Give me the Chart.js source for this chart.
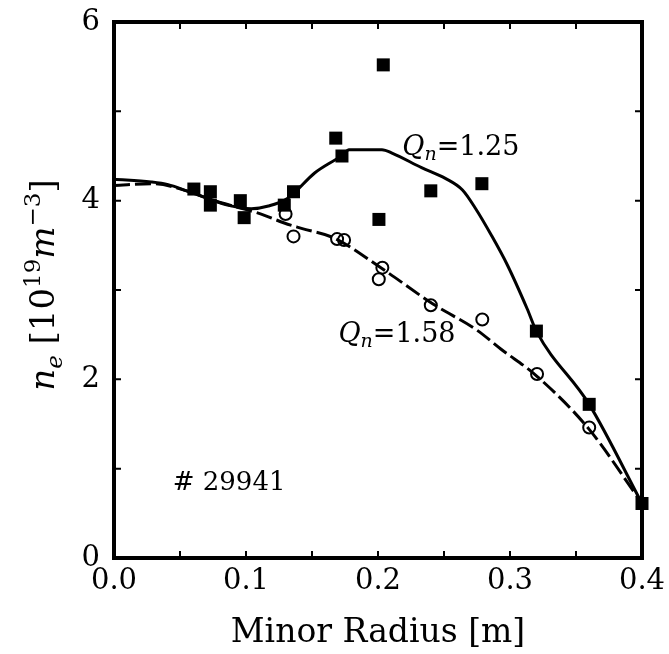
<!DOCTYPE html>
<html><head><meta charset="utf-8">
<script src="https://cdn.jsdelivr.net/npm/chart.js@4.4.0/dist/chart.umd.min.js"></script>
<style>html,body{margin:0;padding:0;background:#fff;}#wrap{width:669px;height:654px;}</style>
</head><body><div id="wrap"><canvas id="c" width="669" height="654"></canvas></div>
<script>
// ---- data ----
const squareX = [0.0605, 0.073, 0.073, 0.0957, 0.0986, 0.129, 0.136, 0.168, 0.1727, 0.204, 0.2007, 0.240, 0.2787, 0.320, 0.360, 0.400];
const squareY = [4.13, 4.10, 3.95, 4.00, 3.81, 3.95, 4.10, 4.70, 4.50, 5.52, 3.79, 4.11, 4.19, 2.54, 1.72, 0.61];
const circleX = [0.130, 0.136, 0.169, 0.1743, 0.2033, 0.2006, 0.240, 0.279, 0.3205, 0.360];
const circleY = [3.85, 3.60, 3.57, 3.56, 3.25, 3.12, 2.83, 2.67, 2.06, 1.46];
const fit125X = [0.000, 0.028, 0.041, 0.055, 0.074, 0.086, 0.104, 0.117, 0.132, 0.152, 0.173, 0.178, 0.203, 0.211, 0.233, 0.251, 0.264, 0.274, 0.286, 0.298, 0.313, 0.320, 0.360, 0.400];
const fit125Y = [4.24, 4.21, 4.18, 4.11, 4.01, 3.95, 3.91, 3.94, 4.03, 4.31, 4.51, 4.57, 4.57, 4.53, 4.37, 4.25, 4.12, 3.91, 3.61, 3.28, 2.79, 2.54, 1.72, 0.61];
const fit158X = [0.000, 0.030, 0.055, 0.074, 0.090, 0.1115, 0.129, 0.142, 0.167, 0.203, 0.242, 0.275, 0.293, 0.320, 0.360, 0.393, 0.400];
const fit158Y = [4.17, 4.19, 4.11, 4.01, 3.94, 3.85, 3.75, 3.69, 3.58, 3.24, 2.84, 2.55, 2.34, 2.04, 1.44, 0.76, 0.61];
const xTickValues = [0, 0.1, 0.2, 0.3, 0.4];
const xTickLabels = ['0.0', '0.1', '0.2', '0.3', '0.4'];
const yTickValues = [0, 2, 4, 6];
const yTickLabels = ['0', '2', '4', '6'];
const xMinorTicks = [0.05, 0.1, 0.15, 0.2, 0.25, 0.3, 0.35];
const yMinorTicks = [1, 2, 3, 4, 5];
const xTitle = 'Minor Radius [m]';
const label125 = ['Q', 'n', '=1.25'];
const label158 = ['Q', 'n', '=1.58'];
const shotLabel = '# 29941';

const FAM = "'DejaVu Serif', serif";
const pts = (xs, ys) => xs.map((x, i) => ({x: x, y: ys[i]}));

function drawRich(ctx, x, y, parts) {
  let cx = x;
  for (const p of parts) {
    ctx.font = p[1];
    ctx.fillText(p[0], cx, y + p[2]);
    cx += ctx.measureText(p[0]).width;
  }
  return cx - x;
}
function richWidth(ctx, parts) {
  let w = 0;
  for (const p of parts) { ctx.font = p[1]; w += ctx.measureText(p[0]).width; }
  return w;
}

const framePlugin = {
  id: 'frame',
  beforeDatasetsDraw(chart) {
    const {ctx, chartArea: a, scales: {x, y}} = chart;
    ctx.save();
    ctx.strokeStyle = '#000';
    ctx.lineWidth = 4;
    ctx.strokeRect(a.left, a.top, a.right - a.left, a.bottom - a.top);
    ctx.lineWidth = 2;
    ctx.beginPath();
    const tl = 7;
    for (const v of xMinorTicks) {
      const px = x.getPixelForValue(v);
      ctx.moveTo(px, a.bottom); ctx.lineTo(px, a.bottom - tl);
      ctx.moveTo(px, a.top); ctx.lineTo(px, a.top + tl);
    }
    for (const v of yMinorTicks) {
      const py = y.getPixelForValue(v);
      ctx.moveTo(a.left, py); ctx.lineTo(a.left + tl, py);
      ctx.moveTo(a.right, py); ctx.lineTo(a.right - tl, py);
    }
    ctx.stroke();
    ctx.restore();
  },
  afterDraw(chart) {
    const {ctx, scales: {x, y}} = chart;
    ctx.save();
    ctx.fillStyle = '#000';
    ctx.textBaseline = 'alphabetic';
    ctx.textAlign = 'left';
    drawRich(ctx, x.getPixelForValue(0.2184), y.getPixelForValue(4.515), [
      [label125[0], 'italic 27px ' + FAM, 0], [label125[1], 'italic 19px ' + FAM, 5], [label125[2], '27px ' + FAM, 0]]);
    drawRich(ctx, x.getPixelForValue(0.170), y.getPixelForValue(2.42), [
      [label158[0], 'italic 27px ' + FAM, 0], [label158[1], 'italic 19px ' + FAM, 5], [label158[2], '27px ' + FAM, 0]]);
    ctx.font = '26px ' + FAM;
    ctx.fillText(shotLabel, x.getPixelForValue(0.0445), y.getPixelForValue(0.76));
    const parts = [
      ['n', 'italic 34px ' + FAM, 0], ['e', 'italic 23px ' + FAM, 8],
      [' [10', '34px ' + FAM, 0], ['19', '23px ' + FAM, -14],
      ['m', 'italic 34px ' + FAM, 0], ['\u22123', '23px ' + FAM, -14],
      [']', '34px ' + FAM, 0]];
    const w = richWidth(ctx, parts);
    ctx.translate(54, 285);
    ctx.rotate(-Math.PI / 2);
    drawRich(ctx, -w / 2, 0, parts);
    ctx.restore();
  }
};

new Chart(document.getElementById('c'), {
  type: 'scatter',
  data: {
    datasets: [
      { label: 'squares', data: pts(squareX, squareY), pointStyle: 'rect', pointRadius: 9.2,
        backgroundColor: '#000', borderColor: '#000', borderWidth: 0, showLine: false, clip: false },
      { label: 'circles', data: pts(circleX, circleY), pointStyle: 'circle', pointRadius: 6,
        backgroundColor: 'rgba(0,0,0,0)', borderColor: '#000', borderWidth: 2, showLine: false, clip: false },
      { label: 'Qn=1.25', data: pts(fit125X, fit125Y), showLine: true, pointRadius: 0,
        borderColor: '#000', borderWidth: 3, cubicInterpolationMode: 'monotone', fill: false },
      { label: 'Qn=1.58', data: pts(fit158X, fit158Y), showLine: true, pointRadius: 0,
        borderColor: '#000', borderWidth: 3, borderDash: [16, 5], cubicInterpolationMode: 'monotone', fill: false }
    ]
  },
  options: {
    responsive: false,
    animation: false,
    devicePixelRatio: 1,
    layout: { padding: { top: 22, right: 27, left: 0, bottom: 0 } },
    plugins: { legend: { display: false }, tooltip: { enabled: false } },
    scales: {
      x: {
        type: 'linear', min: 0, max: 0.4,
        afterFit: (s) => { s.height = 96; s.paddingLeft = 0; s.paddingRight = 0; },
        afterBuildTicks: (s) => { s.ticks = xTickValues.map(v => ({value: v})); },
        grid: { display: false, drawTicks: false },
        border: { display: false },
        ticks: { color: '#000', font: { family: FAM, size: 29 }, padding: 6,
          callback: (v) => { const i = xTickValues.findIndex(t => Math.abs(t - v) < 1e-9); return i >= 0 ? xTickLabels[i] : ''; },
          maxRotation: 0, autoSkip: false },
        title: { display: true, text: xTitle, color: '#000', font: { family: FAM, size: 33 }, padding: { top: 0, bottom: 1 } }
      },
      y: {
        type: 'linear', min: 0, max: 6,
        afterFit: (s) => { s.width = 114; s.paddingTop = 0; s.paddingBottom = 0; },
        afterBuildTicks: (s) => { s.ticks = yTickValues.map(v => ({value: v})); },
        grid: { display: false, drawTicks: false },
        border: { display: false },
        ticks: { color: '#000', font: { family: FAM, size: 29 }, padding: 14,
          callback: (v) => { const i = yTickValues.indexOf(v); return i >= 0 ? yTickLabels[i] : ''; } }
      }
    }
  },
  plugins: [framePlugin]
});
</script>
</body></html>
